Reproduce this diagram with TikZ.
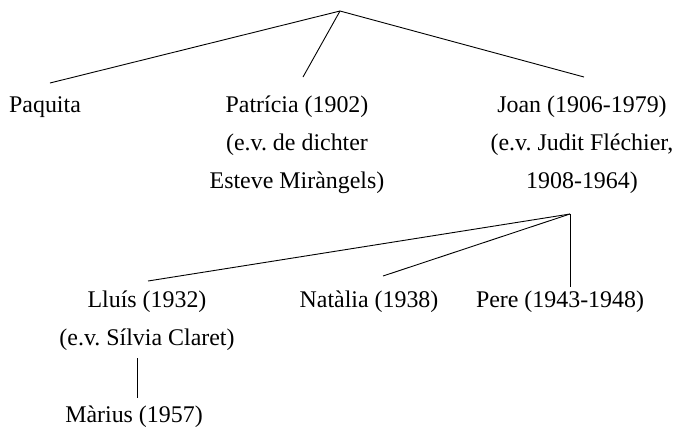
\documentclass[tikz,border=0pt]{standalone}
\usepackage{fontspec}
\setmainfont{Liberation Serif}
\frenchspacing
\begin{document}
\begin{tikzpicture}[x=1bp,y=-1bp,
  person/.style={align=center,anchor=base,inner sep=0pt,font=\fontsize{24}{38}\selectfont},
  link/.style={line width=0.9bp,black}]
\useasboundingbox (0,0) rectangle (678,430);
% top generation
\coordinate (top) at (340,11);
\node[person] (pq) at (45,112) {Paquita};
\node[person] (pa) at (297,188) {Patrícia (1902)\\(e.v. de dichter\\Esteve Miràngels)};
\node[person] (jo) at (582,188) {Joan (1906-1979)\\(e.v. Judit Fléchier,\\1908-1964)};
\coordinate (pqend) at (50,83);
\coordinate (paend) at (303,77);
\coordinate (joend) at (584,77);
\draw[link] (pqend) -- (top) -- (joend);
\draw[link] (top) -- (paend);
% Joan's children
\coordinate (mid) at (570,214);
\node[person] (ll) at (147,345) {Lluís (1932)\\(e.v. Sílvia Claret)};
\node[person] (na) at (369,307) {Natàlia (1938)};
\node[person] (pe) at (560,307) {Pere (1943-1948)};
\coordinate (llend) at (148,281);
\coordinate (naend) at (383,276);
\coordinate (peend) at (570,287);
\draw[link] (mid) -- (llend);
\draw[link] (mid) -- (naend);
\draw[link] (mid) -- (peend);
% Lluís's child
\node[person] (ma) at (134,422) {Màrius (1957)};
\coordinate (lltop) at (137,358);
\coordinate (mabot) at (137,398);
\draw[link] (lltop) -- (mabot);
\end{tikzpicture}
\end{document}
